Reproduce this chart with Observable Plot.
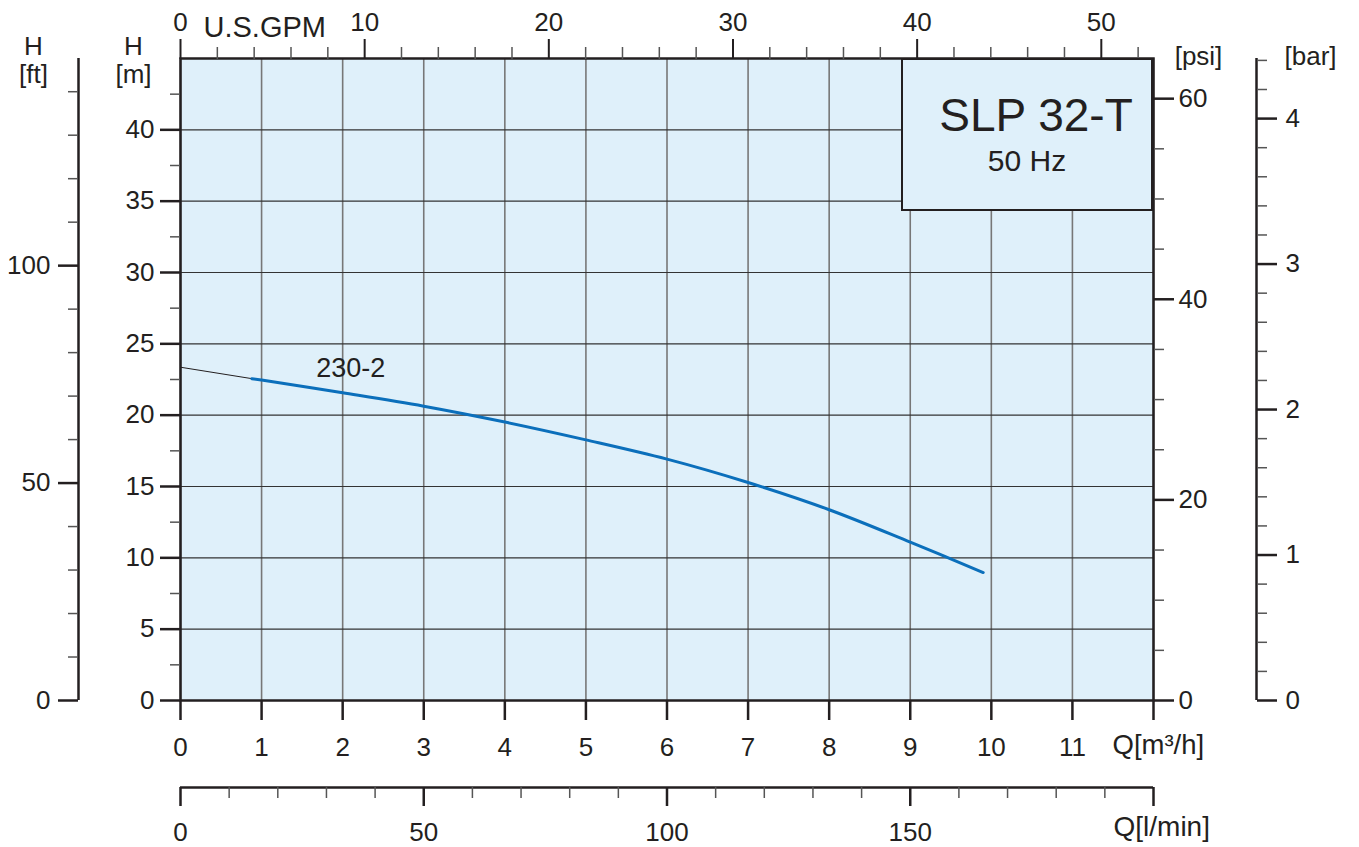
<!DOCTYPE html>
<html><head><meta charset="utf-8">
<script src="https://cdn.jsdelivr.net/npm/d3@7"></script>
<script src="https://cdn.jsdelivr.net/npm/@observablehq/plot@0.6"></script>
<style>
body{margin:0;background:#fff;font-family:"Liberation Sans",Arial,Helvetica,sans-serif;color:#231f20;}
#wrap{position:relative;width:1359px;height:847px;}
#box{position:absolute;left:901px;top:58px;width:252px;height:153px;box-sizing:border-box;border:2.5px solid #231f20;background:#dff0fa;}
#box span{position:absolute;left:0;right:0;text-align:center;white-space:nowrap;line-height:1;}
#t1{font-size:46px;top:31.5px;padding-left:18px;}
#t2{font-size:30px;top:86px;}
</style>
</head><body>
<div id="wrap">
<div id="chart"></div>
<div id="box"><span id="t1">SLP 32-T</span><span id="t2">50 Hz</span></div>
</div>
<script>
// ---- data (Q in m3/h, H in m) ----
const extrapQ = [0, 0.88];
const extrapH = [23.36, 22.56];
const curveQ = [0.88, 1, 2, 3, 4, 5, 6, 7, 8, 9, 9.9];
const curveH = [22.56, 22.46, 21.57, 20.63, 19.52, 18.27, 16.92, 15.28, 13.37, 11.10, 8.97];
const curveName = "230-2";
const curveLabelQ = 2.1, curveLabelH = 23.25;

// ---- tick values (in each axis' own unit) ----
const qTicks = [0,1,2,3,4,5,6,7,8,9,10,11,12];
const hMajor = [0,5,10,15,20,25,30,35,40];
const hMinor = [2.5,7.5,12.5,17.5,22.5,27.5,32.5,37.5,42.5];
const gpmMajor = [0,10,20,30,40,50];
const gpmMinor = [2,4,6,8,12,14,16,18,22,24,26,28,32,34,36,38,42,44,46,48,52];
const lminMajor = [0,50,100,150,200];
const lminMinor = [10,20,30,40,60,70,80,90,110,120,130,140,160,170,180,190];
const psiMajor = [0,20,40,60];
const psiMinor = [5,10,15,25,30,35,45,50,55];
const barMajor = [0,1,2,3,4];
const barMinor = [0.2,0.4,0.6,0.8,1.2,1.4,1.6,1.8,2.2,2.4,2.6,2.8,3.2,3.4,3.6,3.8,4.2,4.4];
const ftMajor = [0,50,100];
const ftMinor = [10,20,30,40,60,70,80,90,110,120,130,140];

// unit conversions
const M3H_PER_GPM = 0.227125, M3H_PER_LMIN = 0.06;
const M_PER_PSI = 0.70307, M_PER_BAR = 10.197, M_PER_FT = 0.3048;

const ink = "#231f20", minorInk = "#555";
const extrap = extrapQ.map((q,i)=>({q, h: extrapH[i]}));
const curve = curveQ.map((q,i)=>({q, h: curveH[i]}));

const chart = Plot.plot({
  width: 1359, height: 847,
  marginLeft: 180, marginRight: 206, marginTop: 58, marginBottom: 147,
  x: {domain: [0, 12], label: null},
  y: {domain: [0, 45], label: null},
  style: {fontFamily: "Liberation Sans, Arial, Helvetica, sans-serif", fontSize: "26px", color: ink, background: "transparent", overflow: "visible"},
  marks: [
    Plot.frame({fill: "#dff0fa", stroke: null}),
    Plot.gridX(qTicks, {stroke: "#777", strokeOpacity: 1, strokeWidth: 1.6}),
    Plot.gridY(hMajor, {stroke: "#333", strokeOpacity: 1, strokeWidth: 1.2}),
    Plot.line(extrap, {x: "q", y: "h", stroke: ink, strokeWidth: 1}),
    Plot.line(curve, {x: "q", y: "h", stroke: "#0b6fbb", strokeWidth: 3, curve: "catmull-rom"}),
    Plot.text([curveName], {x: curveLabelQ, y: curveLabelH, text: d => d, fontSize: 27, fill: ink}),
    Plot.frame({stroke: ink, strokeWidth: 2.5}),
    // bottom Q [m3/h]
    Plot.axisX(qTicks, {anchor: "bottom", label: null, tickSize: 20, tickPadding: 17, strokeWidth: 2.5, stroke: ink, tickFormat: d => d < 12 ? String(d) : ""}),
    Plot.text(["Q[m³/h]"], {frameAnchor: "bottom-right", dx: -41, dy: 34, textAnchor: "start", lineAnchor: "top", fill: ink, fontSize: 27.5}),
    // left H [m]
    Plot.axisY(hMajor, {anchor: "left", label: null, tickSize: 20, tickPadding: 6, strokeWidth: 2.5, stroke: ink}),
    Plot.axisY(hMinor, {anchor: "left", label: null, tickSize: 10, strokeWidth: 1.5, stroke: minorInk, tickFormat: () => ""}),
    Plot.text(["H"], {frameAnchor: "top-left", dx: -47, dy: -4, textAnchor: "middle", lineAnchor: "bottom", fill: ink, fontSize: 26}),
    Plot.text(["[m]"], {frameAnchor: "top-left", dx: -47, dy: 24, textAnchor: "middle", lineAnchor: "bottom", fill: ink, fontSize: 26}),
    // top U.S.GPM
    Plot.axisX(gpmMajor.map(g => g * M3H_PER_GPM), {anchor: "top", label: null, tickSize: 20, tickPadding: 8, strokeWidth: 2, stroke: ink, tickFormat: d => String(Math.round(d / M3H_PER_GPM))}),
    Plot.axisX(gpmMinor.map(g => g * M3H_PER_GPM), {anchor: "top", label: null, tickSize: 12, strokeWidth: 1.5, stroke: minorInk, tickFormat: () => ""}),
    Plot.text(["U.S.GPM"], {frameAnchor: "top-left", dx: 23, dy: -22, textAnchor: "start", lineAnchor: "bottom", fill: ink, fontSize: 29}),
    // bottom Q [l/min]
    Plot.ruleY([0], {dy: 87, stroke: ink, strokeWidth: 2.5}),
    Plot.axisX(lminMajor.map(v => v * M3H_PER_LMIN), {anchor: "bottom", dy: 87, label: null, tickSize: 19, tickPadding: 16, strokeWidth: 2.5, stroke: ink, tickFormat: d => { const v = Math.round(d / M3H_PER_LMIN); return v < 200 ? String(v) : ""; }}),
    Plot.axisX(lminMinor.map(v => v * M3H_PER_LMIN), {anchor: "bottom", dy: 87, label: null, tickSize: 11, strokeWidth: 1.5, stroke: minorInk, tickFormat: () => ""}),
    Plot.text(["Q[l/min]"], {frameAnchor: "bottom-right", dx: -40, dy: 116, textAnchor: "start", lineAnchor: "top", fill: ink, fontSize: 28}),
    // right psi
    Plot.axisY(psiMajor.map(p => p * M_PER_PSI), {anchor: "right", label: null, tickSize: 20, tickPadding: 5, strokeWidth: 2.5, stroke: ink, tickFormat: d => String(Math.round(d / M_PER_PSI))}),
    Plot.axisY(psiMinor.map(p => p * M_PER_PSI), {anchor: "right", label: null, tickSize: 10, strokeWidth: 1.5, stroke: minorInk, tickFormat: () => ""}),
    Plot.text(["[psi]"], {frameAnchor: "top-right", dx: 45, dy: 6, textAnchor: "middle", lineAnchor: "bottom", fill: ink, fontSize: 26}),
    // far right bar
    Plot.ruleX([12], {y1: 0, y2: 45, dx: 103, stroke: ink, strokeWidth: 2.5}),
    Plot.axisY(barMajor.map(b => b * M_PER_BAR), {anchor: "right", dx: 103, label: null, tickSize: 20, tickPadding: 9, strokeWidth: 2.5, stroke: ink, tickFormat: d => String(Math.round(d / M_PER_BAR))}),
    Plot.axisY(barMinor.map(b => b * M_PER_BAR), {anchor: "right", dx: 103, label: null, tickSize: 10, strokeWidth: 1.5, stroke: minorInk, tickFormat: () => ""}),
    Plot.text(["[bar]"], {frameAnchor: "top-right", dx: 157, dy: 6, textAnchor: "middle", lineAnchor: "bottom", fill: ink, fontSize: 26}),
    // far left ft
    Plot.ruleX([0], {y1: 0, y2: 45, dx: -102, stroke: ink, strokeWidth: 2.5}),
    Plot.axisY(ftMajor.map(f => f * M_PER_FT), {anchor: "left", dx: -102, label: null, tickSize: 20, tickPadding: 8, strokeWidth: 2.5, stroke: ink, tickFormat: d => String(Math.round(d / M_PER_FT))}),
    Plot.axisY(ftMinor.map(f => f * M_PER_FT), {anchor: "left", dx: -102, label: null, tickSize: 10, strokeWidth: 1.5, stroke: minorInk, tickFormat: () => ""}),
    Plot.text(["H"], {frameAnchor: "top-left", dx: -147, dy: -4, textAnchor: "middle", lineAnchor: "bottom", fill: ink, fontSize: 26}),
    Plot.text(["[ft]"], {frameAnchor: "top-left", dx: -147, dy: 24, textAnchor: "middle", lineAnchor: "bottom", fill: ink, fontSize: 26})
  ]
});
document.getElementById("chart").appendChild(chart);
</script>
</body></html>
